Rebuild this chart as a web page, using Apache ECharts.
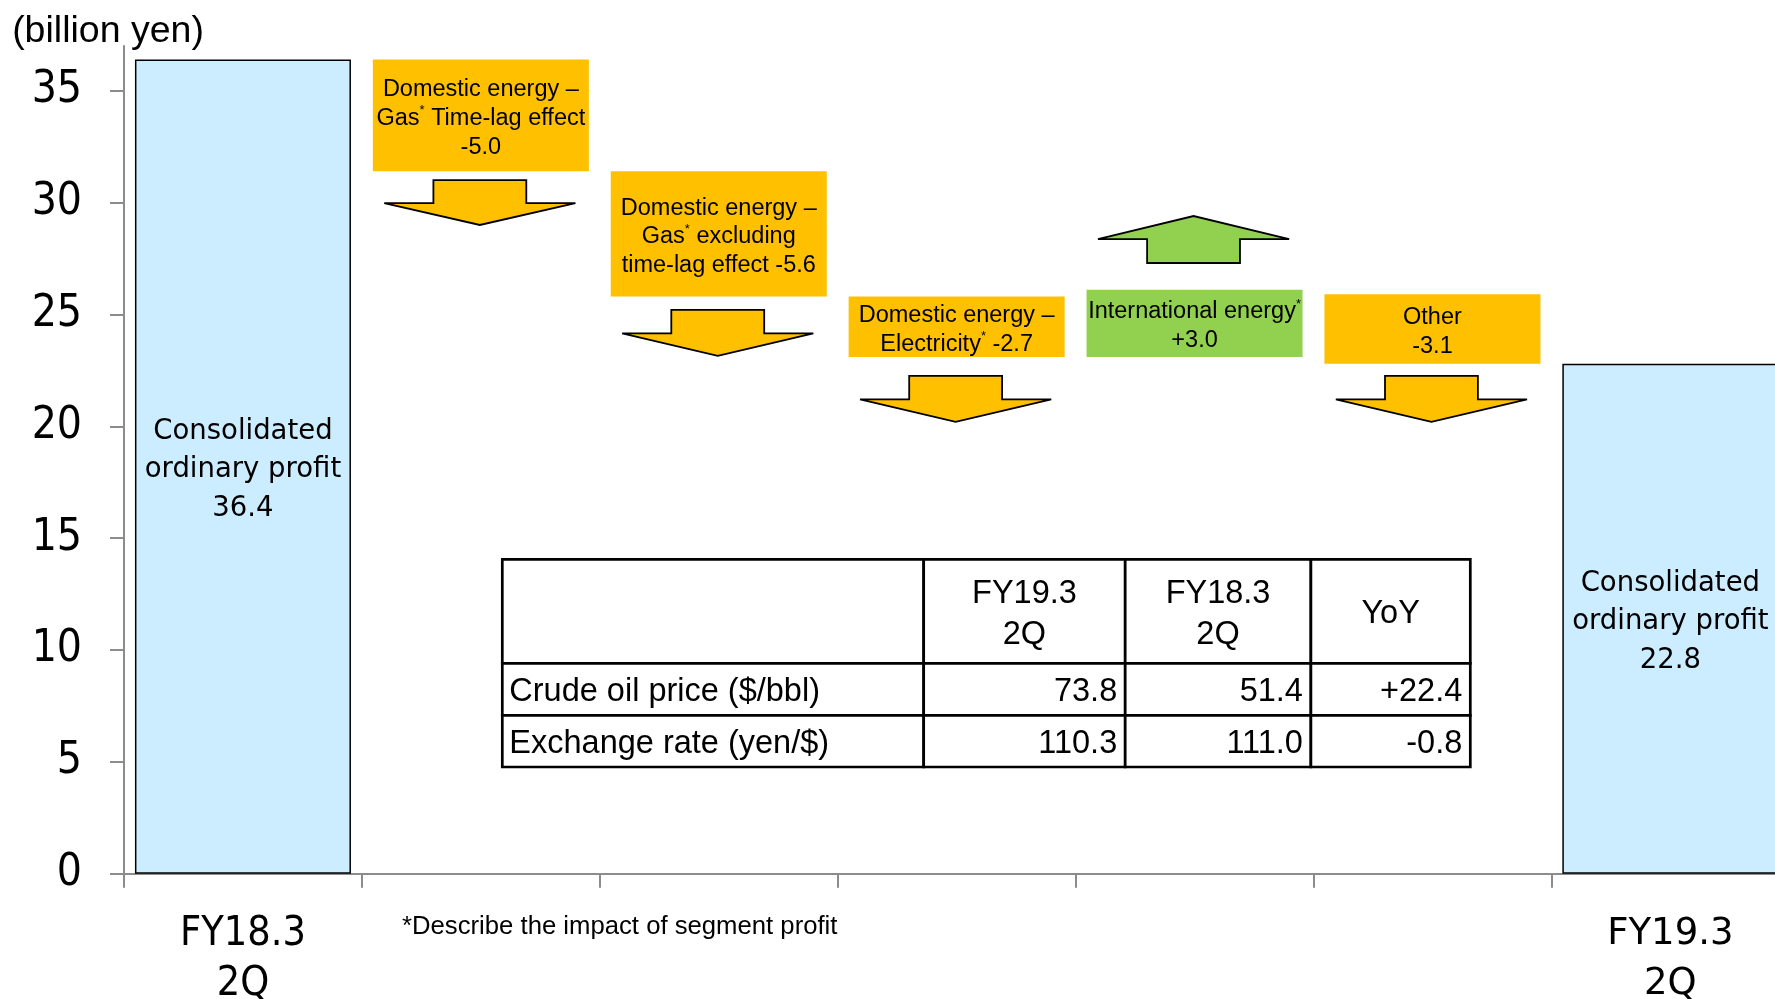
<!DOCTYPE html>
<html>
<head>
<meta charset="utf-8">
<script src="https://cdn.jsdelivr.net/npm/echarts@6/dist/echarts.min.js"></script>
<style>html,body{margin:0;padding:0;background:#fff}#c{width:1775px;height:999px}</style>
</head>
<body>
<div id="c"></div>
<script>
// ---------------- data ----------------
const categories = [
  'FY18.3\n2Q',
  'Domestic energy –\nGas* Time-lag effect',
  'Domestic energy –\nGas* excluding\ntime-lag effect',
  'Domestic energy –\nElectricity*',
  'International energy*',
  'Other',
  'FY19.3\n2Q'
];
const totalName = 'Consolidated\nordinary profit';
const startTotal = 36.4;
const endTotal = 22.8;
const changes = [-5.0, -5.6, -2.7, 3.0, -3.1];
const changeBase = [31.4, 25.8, 23.1, 23.1, 22.8];      // bottom of each floating bar (billion yen)
const arrowFrom = [31.0, 25.2, 22.25, 27.3, 22.25];     // arrow tail (billion yen)
const arrowTo = [29.0, 23.15, 20.2, 29.4, 20.2];        // arrow tip (billion yen)
const yTicks = [0, 5, 10, 15, 20, 25, 30, 35];
const tableHeader = ['', 'FY19.3\n2Q', 'FY18.3\n2Q', 'YoY'];
const crudeOil = ['Crude oil price ($/bbl)', 73.8, 51.4, 22.4];
const exchangeRate = ['Exchange rate (yen/$)', 110.3, 111.0, -0.8];

// ---------------- styling / layout ----------------
const FN = "'Liberation Sans Narrow','DejaVu Sans Condensed','Liberation Sans',Arial,sans-serif";
const FR = "'Liberation Sans',Arial,sans-serif";
const FV = "'DejaVu Sans',Verdana,sans-serif";
const GOLD = '#FFC000', GREEN = '#92D050', BLUE = '#CCECFF', GRAY = '#8c8c8c';
const GAP = 0.092;
const labelJoin = ['\n', ' ', ' ', '\n', '\n'];
const colEdges = [0, 421.4, 622.9, 808.6, 968];
const rowEdges = [0, 104, 156.1, 207.7];

function fmt(v, signed) {
  const s = Math.abs(v).toFixed(1);
  if (v < 0) return '-' + s;
  return (signed ? '+' : '') + s;
}
function supStar(t) { return t.replace(/\*/g, '{s|*}'); }

const n = categories.length;
const baseData = [0].concat(changeBase, [0]);
const totalLabel = v => ({
  formatter: totalName + '\n' + v.toFixed(1), fontFamily: FV, fontSize: 27.5, lineHeight: 38.3, offset: [0, 3.5]
});
const valueData = [];
valueData.push({
  value: startTotal,
  itemStyle: { color: BLUE, borderColor: '#000', borderWidth: 1.5 },
  label: totalLabel(startTotal)
});
changes.forEach((c, i) => {
  valueData.push({
    value: Math.abs(c),
    itemStyle: { color: c > 0 ? GREEN : GOLD, borderWidth: 0 },
    label: {
      formatter: supStar(categories[i + 1]) + labelJoin[i] + fmt(c, true),
      fontFamily: FR, fontSize: 23.5, lineHeight: 28.8, offset: [0, 3],
      rich: { s: { fontFamily: FR, fontSize: 13, lineHeight: 14, verticalAlign: 'top', color: '#000' } }
    }
  });
});
valueData.push({
  value: endTotal,
  itemStyle: { color: BLUE, borderColor: '#000', borderWidth: 1.5 },
  label: totalLabel(endTotal)
});

const arrowData = changes.map((c, i) => [i + 1, arrowFrom[i], arrowTo[i], c > 0 ? 1 : 0]);

const tableRows = [tableHeader, crudeOil, exchangeRate];
const tableData = [];
for (let r = 0; r < 3; r++) for (let c = 0; c < 4; c++) tableData.push([c, r]);
function cellText(r, c) {
  const v = tableRows[r][c];
  if (r === 0 || c === 0) return v;
  return c === 3 ? fmt(v, true) : v.toFixed(1);
}

const chart = echarts.init(document.getElementById('c'), null, { renderer: 'canvas' });
chart.setOption({
  animation: false,
  backgroundColor: '#fff',
  title: {
    text: '*Describe the impact of segment profit',
    left: 402, top: 912, padding: 0,
    textStyle: { fontFamily: FR, fontSize: 25.7, fontWeight: 'normal', color: '#000', lineHeight: 30 }
  },
  grid: [
    { left: 124, top: 46, width: 1665.3, height: 827.7, containLabel: false, outerBoundsMode: 'none' },
    { left: 502.3, top: 559.3, width: 968, height: 207.7, containLabel: false, outerBoundsMode: 'none' }
  ],
  xAxis: [
    {
      type: 'category', data: categories, gridIndex: 0,
      axisLine: { show: true, lineStyle: { color: GRAY, width: 2 } },
      axisTick: { show: true, length: 14, lineStyle: { color: GRAY, width: 2 } },
      axisLabel: {
        interval: 0, margin: 36, color: '#000',
        formatter: (v, i) => i === 0 ? v.split('\n').map(s => '{a|' + s + '}').join('\n')
          : (i === n - 1 ? v.split('\n').map(s => '{b|' + s + '}').join('\n') : ''),
        rich: {
          a: { fontFamily: FN, fontSize: 41, lineHeight: 50, color: '#000' },
          b: { fontFamily: FV, fontSize: 37, lineHeight: 50, color: '#000' }
        }
      },
      splitLine: { show: false }
    },
    { type: 'value', gridIndex: 1, min: 0, max: colEdges[colEdges.length - 1], show: false }
  ],
  yAxis: [
    {
      type: 'value', gridIndex: 0, min: 0, max: 37, interval: 5,
      name: '(billion yen)', nameLocation: 'end', nameGap: -6,
      nameTextStyle: { fontFamily: FR, fontSize: 37.5, color: '#000', lineHeight: 40, padding: [0, 32, 0, 0] },
      axisLine: { show: true, lineStyle: { color: GRAY, width: 2 } },
      axisTick: { show: true, length: 14, lineStyle: { color: GRAY, width: 2 }, customValues: yTicks },
      axisLabel: { customValues: yTicks, fontFamily: FN, fontSize: 44, color: '#000', margin: 42,
        formatter: v => (v % 5 === 0 ? String(v) : '') },
      splitLine: { show: false }
    },
    { type: 'value', gridIndex: 1, min: 0, max: rowEdges[rowEdges.length - 1], inverse: true, show: false }
  ],
  series: [
    {
      name: 'base', type: 'bar', stack: 'w', data: baseData,
      barCategoryGap: (GAP * 100) + '%',
      itemStyle: { color: 'rgba(0,0,0,0)', borderWidth: 0 },
      emphasis: { disabled: true }, silent: true
    },
    {
      name: 'value', type: 'bar', stack: 'w', data: valueData,
      barCategoryGap: (GAP * 100) + '%',
      label: { show: true, position: 'inside', color: '#000', align: 'center', verticalAlign: 'middle' },
      emphasis: { disabled: true }
    },
    {
      name: 'arrows', type: 'custom', coordinateSystem: 'cartesian2d', xAxisIndex: 0, yAxisIndex: 0,
      data: arrowData, encode: { x: 0, y: [1, 2] }, z: 5,
      renderItem: function (params, api) {
        const x = api.value(0);
        const p0 = api.coord([x, api.value(1)]);
        const p1 = api.coord([x, api.value(2)]);
        const bw = api.size([1, 0])[0] * (1 - GAP);
        const w = bw * 0.885, s = bw * 0.43;
        const cx = p0[0] - 1;
        const y0 = p0[1], y1 = p1[1];
        const ym = y0 + (y1 - y0) * 0.51;
        return {
          type: 'polygon',
          shape: { points: [[cx - s / 2, y0], [cx + s / 2, y0], [cx + s / 2, ym], [cx + w / 2, ym], [cx, y1], [cx - w / 2, ym], [cx - s / 2, ym]] },
          style: { fill: api.value(3) ? GREEN : GOLD, stroke: '#000', lineWidth: 1.8, lineJoin: 'miter', miterLimit: 2 }
        };
      }
    },
    {
      name: 'table', type: 'custom', coordinateSystem: 'cartesian2d', xAxisIndex: 1, yAxisIndex: 1,
      data: tableData, encode: { x: 0, y: 1 }, z: 4,
      renderItem: function (params, api) {
        const c = api.value(0), r = api.value(1);
        const a = api.coord([colEdges[c], rowEdges[r]]);
        const b = api.coord([colEdges[c + 1], rowEdges[r + 1]]);
        let tx, align;
        if (r === 0) { tx = (a[0] + b[0]) / 2; align = 'center'; }
        else if (c === 0) { tx = a[0] + 7; align = 'left'; }
        else { tx = b[0] - 8; align = 'right'; }
        return {
          type: 'group',
          children: [
            { type: 'rect', shape: { x: a[0], y: a[1], width: b[0] - a[0], height: b[1] - a[1] },
              style: { fill: '#fff', stroke: '#000', lineWidth: 2.7 } },
            { type: 'text', style: { text: String(cellText(r, c)), x: tx, y: (a[1] + b[1]) / 2 + 3,
              align: align, verticalAlign: 'middle', fontFamily: FR, fontSize: 32.5, lineHeight: 41, fill: '#000' } }
          ]
        };
      }
    }
  ]
});
</script>
</body>
</html>
